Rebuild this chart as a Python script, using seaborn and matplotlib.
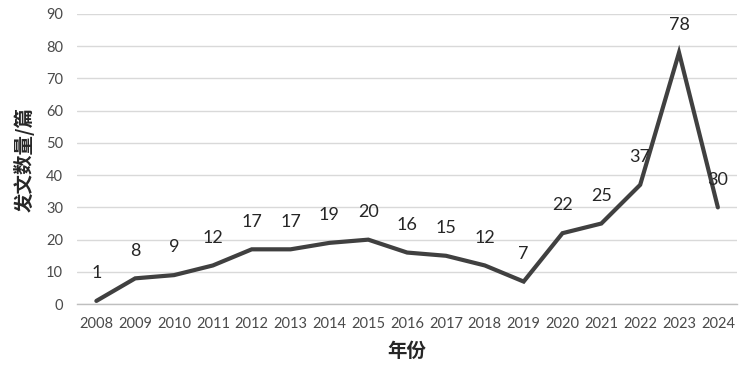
import matplotlib
matplotlib.use("Agg")
import matplotlib.pyplot as plt
import seaborn as sns
import pandas as pd

years = [2008, 2009, 2010, 2011, 2012, 2013, 2014, 2015, 2016, 2017,
         2018, 2019, 2020, 2021, 2022, 2023, 2024]
counts = [1, 8, 9, 12, 17, 17, 19, 20, 16, 15, 12, 7, 22, 25, 37, 78, 30]
y_ticks = [0, 10, 20, 30, 40, 50, 60, 70, 80, 90]
x_label = "年份"
y_label = "发文数量/篇"

sns.set_theme(style="white")
plt.rcParams['font.family'] = ['Lato', 'DejaVu Sans']

df = pd.DataFrame({"idx": range(len(years)), "year": years, "count": counts})

fig = plt.figure(figsize=(7.47, 3.66), dpi=100)
ax = fig.add_axes([0.103, 0.169, 0.884, 0.793])

sns.lineplot(data=df, x="idx", y="count", ax=ax, color="#404040",
             linewidth=3.0, solid_joinstyle="miter")

for i, v in zip(df["idx"], df["count"]):
    ax.annotate(str(v), (i, v), xytext=(0, 20), textcoords="offset points",
                ha="center", va="center", fontsize=13, color="#262626",
                family=['Lato', 'DejaVu Sans'])

ax.set_xlim(-0.5, len(years) - 0.5)
ax.set_ylim(0, 90)
ax.set_yticks(y_ticks)
ax.set_xticks(range(len(years)))
ax.set_xticklabels([str(y) for y in years])
ax.tick_params(axis="both", length=0, labelsize=10.5, colors="#4a4a4a")
ax.tick_params(axis="x", pad=9)
ax.tick_params(axis="y", pad=10)
ax.grid(axis="y", color="#d9d9d9", linewidth=1.0)
ax.set_axisbelow(True)
for s in ["left", "right", "top"]:
    ax.spines[s].set_visible(False)
ax.spines["bottom"].set_color("#bfbfbf")
ax.spines["bottom"].set_linewidth(1.0)

ax.set_xlabel(x_label, fontsize=14, fontweight="bold", color="#262626",
              family=['Noto Sans CJK SC', 'DejaVu Sans'], labelpad=8)
ax.set_ylabel(y_label, fontsize=14, fontweight="bold", color="#262626",
              family=['Noto Sans CJK SC', 'DejaVu Sans'], labelpad=8)

fig.savefig("out.png", dpi=100)
